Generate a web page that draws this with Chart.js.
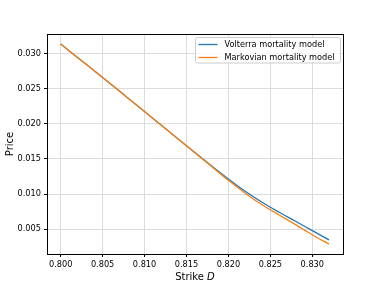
<!DOCTYPE html>
<html>
<head>
<meta charset="utf-8">
<script src="https://cdn.jsdelivr.net/npm/chart.js@4.4.1/dist/chart.umd.min.js"></script>
<style>
html,body{margin:0;padding:0;background:#fff;}
#c{display:block;}
</style>
</head>
<body>
<canvas id="c" width="381" height="286"></canvas>
<script>
const strikes = [0.800,0.802,0.804,0.806,0.808,0.810,0.812,0.814,0.816,0.818,0.820,0.822,0.824,0.826,0.828,0.830,0.832];
const volterraPrice = [0.03134,0.02943,0.02753,0.02561,0.02367,0.02174,0.01979,0.01784,0.01591,0.01400,0.01215,0.01040,0.00884,0.00745,0.00614,0.00480,0.00348];
const markovianPrice = [0.03134,0.02943,0.02753,0.02561,0.02367,0.02174,0.01979,0.01784,0.01589,0.01392,0.01195,0.01012,0.00848,0.00706,0.00565,0.00422,0.00286];
const xTicks = [0.800,0.805,0.810,0.815,0.820,0.825,0.830];
const yTicks = [0.005,0.010,0.015,0.020,0.025,0.030];
const seriesNames = ["Volterra mortality model","Markovian mortality model"];
const xTitle = "Strike ";
const xTitleItalic = "D";
const yTitle = "Price";

const FONT = "DejaVu Sans";
const FS = 8.2;     // tick labels
const LFS = 8.2;    // legend
const TFS = 10;     // axis titles

const pts = (xs, ys) => xs.map((x,i)=>({x:x,y:ys[i]}));

const decor = {
  id:'decor',
  afterDraw(chart){
    const ctx = chart.ctx, a = chart.chartArea;
    ctx.save();
    // spines
    ctx.strokeStyle = '#000'; ctx.lineWidth = 1;
    ctx.strokeRect(Math.round(a.left)+0.5, Math.round(a.top)+0.5, Math.round(a.right-a.left), Math.round(a.bottom-a.top));
    // legend
    const bx = 195.5, by = 37.5, bw = 145, bh = 25.5, r = 2;
    ctx.beginPath();
    ctx.moveTo(bx+r,by); ctx.lineTo(bx+bw-r,by); ctx.quadraticCurveTo(bx+bw,by,bx+bw,by+r);
    ctx.lineTo(bx+bw,by+bh-r); ctx.quadraticCurveTo(bx+bw,by+bh,bx+bw-r,by+bh);
    ctx.lineTo(bx+r,by+bh); ctx.quadraticCurveTo(bx,by+bh,bx,by+bh-r);
    ctx.lineTo(bx,by+r); ctx.quadraticCurveTo(bx,by,bx+r,by); ctx.closePath();
    ctx.fillStyle = 'rgba(255,255,255,0.8)'; ctx.fill();
    ctx.strokeStyle = '#cccccc'; ctx.lineWidth = 1; ctx.stroke();
    const cols = ['#1f77b4','#ff7f0e'];
    const rows = [44.5, 57.5];
    ctx.font = LFS + 'px "' + FONT + '"';
    ctx.textBaseline = 'middle'; ctx.textAlign = 'left';
    for (let i=0;i<2;i++){
      ctx.strokeStyle = cols[i]; ctx.lineWidth = 1.3;
      ctx.beginPath(); ctx.moveTo(198.5, rows[i]); ctx.lineTo(217.5, rows[i]); ctx.stroke();
      ctx.fillStyle = '#000';
      ctx.fillText(seriesNames[i], 224.5, rows[i]+0.5);
    }
    // x title
    const cx = (a.left + a.right)/2, ty = 279.5;
    ctx.font = TFS + 'px "' + FONT + '"';
    const w1 = ctx.measureText(xTitle).width;
    ctx.font = 'italic ' + TFS + 'px "' + FONT + '"';
    const w2 = ctx.measureText(xTitleItalic).width;
    const sx = cx - (w1+w2)/2;
    ctx.fillStyle = '#000'; ctx.textBaseline = 'alphabetic';
    ctx.font = TFS + 'px "' + FONT + '"';
    ctx.fillText(xTitle, sx, ty);
    ctx.font = 'italic ' + TFS + 'px "' + FONT + '"';
    ctx.fillText(xTitleItalic, sx + w1, ty);
    // y title
    ctx.translate(10, (a.top + a.bottom)/2);
    ctx.rotate(-Math.PI/2);
    ctx.textAlign = 'center'; ctx.textBaseline = 'middle';
    ctx.font = TFS + 'px "' + FONT + '"';
    ctx.fillText(yTitle, 0, 0);
    ctx.restore();
  }
};

new Chart(document.getElementById('c'), {
  type:'line',
  data:{
    datasets:[
      {label:seriesNames[0], data:pts(strikes, volterraPrice), borderColor:'#1f77b4', borderWidth:1.3, pointRadius:0, fill:false, cubicInterpolationMode:'monotone', order:1},
      {label:seriesNames[1], data:pts(strikes, markovianPrice), borderColor:'#ff7f0e', borderWidth:1.3, pointRadius:0, fill:false, cubicInterpolationMode:'monotone', order:0}
    ]
  },
  options:{
    responsive:false, animation:false,
    layout:{padding:{top:34,right:38,left:0,bottom:0}},
    plugins:{legend:{display:false}, tooltip:{enabled:false}},
    scales:{
      x:{type:'linear', min:0.79837, max:0.83366,
        afterBuildTicks(s){ s.ticks = xTicks.map(v=>({value:v})); },
        afterFit(s){ s.height = 32; },
        ticks:{font:{family:FONT,size:FS}, color:'#000', padding:3, maxRotation:0, autoSkip:false,
          callback:(v)=>Number(v).toFixed(3)},
        grid:{color:'#dcdcdc', lineWidth:1, drawTicks:true, tickLength:3, tickColor:'#000'},
        border:{display:false}
      },
      y:{type:'linear', min:0.00148, max:0.03276,
        afterBuildTicks(s){ s.ticks = yTicks.map(v=>({value:v})); },
        afterFit(s){ s.width = 47; },
        ticks:{font:{family:FONT,size:FS}, color:'#000', padding:3, autoSkip:false,
          callback:(v)=>Number(v).toFixed(3)},
        grid:{color:'#dcdcdc', lineWidth:1, drawTicks:true, tickLength:3, tickColor:'#000'},
        border:{display:false}
      }
    }
  },
  plugins:[decor]
});
</script>
</body>
</html>
